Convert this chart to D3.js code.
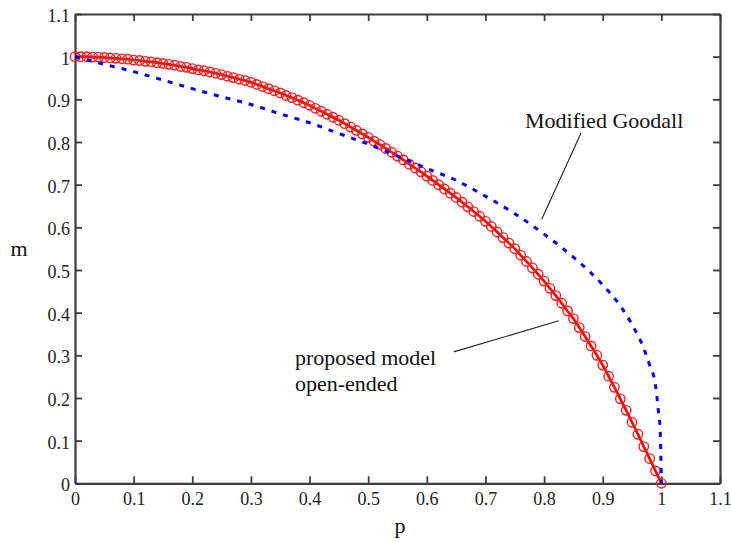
<!DOCTYPE html>
<html>
<head>
<meta charset="utf-8">
<script src="https://cdn.jsdelivr.net/npm/d3@7"></script>
<style>
  html, body { margin: 0; padding: 0; background: #fff; }
  svg { display: block; }
  svg text { font-family: "Liberation Serif", "DejaVu Serif", "Noto Serif", "Times New Roman", serif; }
</style>
</head>
<body>
<svg id="chart" width="731" height="542"></svg>
<script>
// ---------- data ----------
const xTicks = [0, 0.1, 0.2, 0.3, 0.4, 0.5, 0.6, 0.7, 0.8, 0.9, 1, 1.1];
const yTicks = [0, 0.1, 0.2, 0.3, 0.4, 0.5, 0.6, 0.7, 0.8, 0.9, 1, 1.1];
const xTickLabels = ["0", "0.1", "0.2", "0.3", "0.4", "0.5", "0.6", "0.7", "0.8", "0.9", "1", "1.1"];
const yTickLabels = ["0", "0.1", "0.2", "0.3", "0.4", "0.5", "0.6", "0.7", "0.8", "0.9", "1", "1.1"];

// proposed model, open-ended (red, markers every 0.01 in p)
const proposedP = [
  0.00, 0.01, 0.02, 0.03, 0.04, 0.05, 0.06, 0.07, 0.08, 0.09,
  0.10, 0.11, 0.12, 0.13, 0.14, 0.15, 0.16, 0.17, 0.18, 0.19,
  0.20, 0.21, 0.22, 0.23, 0.24, 0.25, 0.26, 0.27, 0.28, 0.29,
  0.30, 0.31, 0.32, 0.33, 0.34, 0.35, 0.36, 0.37, 0.38, 0.39,
  0.40, 0.41, 0.42, 0.43, 0.44, 0.45, 0.46, 0.47, 0.48, 0.49,
  0.50, 0.51, 0.52, 0.53, 0.54, 0.55, 0.56, 0.57, 0.58, 0.59,
  0.60, 0.61, 0.62, 0.63, 0.64, 0.65, 0.66, 0.67, 0.68, 0.69,
  0.70, 0.71, 0.72, 0.73, 0.74, 0.75, 0.76, 0.77, 0.78, 0.79,
  0.80, 0.81, 0.82, 0.83, 0.84, 0.85, 0.86, 0.87, 0.88, 0.89,
  0.90, 0.91, 0.92, 0.93, 0.94, 0.95, 0.96, 0.97, 0.98, 0.99,
  1.00
];
const proposedM = [
  1.000, 1.000, 1.000, 0.999, 0.999, 0.998, 0.997, 0.996, 0.995, 0.994,
  0.992, 0.991, 0.989, 0.988, 0.986, 0.984, 0.982, 0.980, 0.977, 0.975,
  0.972, 0.969, 0.967, 0.964, 0.961, 0.958, 0.954, 0.951, 0.947, 0.944,
  0.940, 0.935, 0.930, 0.925, 0.920, 0.915, 0.909, 0.904, 0.898, 0.892,
  0.886, 0.879, 0.872, 0.865, 0.858, 0.851, 0.843, 0.835, 0.827, 0.819,
  0.811, 0.802, 0.794, 0.785, 0.776, 0.767, 0.758, 0.748, 0.739, 0.730,
  0.720, 0.710, 0.700, 0.690, 0.680, 0.670, 0.659, 0.648, 0.637, 0.626,
  0.614, 0.602, 0.589, 0.576, 0.563, 0.550, 0.535, 0.520, 0.505, 0.490,
  0.474, 0.457, 0.440, 0.422, 0.404, 0.386, 0.365, 0.344, 0.322, 0.300,
  0.277, 0.251, 0.225, 0.198, 0.171, 0.143, 0.115, 0.086, 0.058, 0.029,
  0.000
];

// Modified Goodall (blue dotted)
const goodallP = [0, 0.05, 0.1, 0.15, 0.2, 0.25, 0.3, 0.35, 0.4, 0.45, 0.5, 0.55, 0.6, 0.65,
                  0.7, 0.75, 0.8, 0.85, 0.9, 0.93, 0.95, 0.97, 0.98, 0.99, 0.995, 0.998, 1.0];
const goodallM = [1.000, 0.982, 0.965, 0.945, 0.925, 0.906, 0.888, 0.866, 0.845, 0.820, 0.795, 0.767, 0.738, 0.710,
                  0.673, 0.632, 0.584, 0.530, 0.465, 0.416, 0.372, 0.316, 0.277, 0.230, 0.168, 0.125, 0.000];

const annotationTexts = ["Modified Goodall", "proposed model", "open-ended"];
const xTitle = "p";
const yTitle = "m";

// ---------- layout ----------
const svg = d3.select("#chart");
const mLeft = 75, mRight = 720, mTop = 14, mBottom = 483.3;

const x = d3.scaleLinear().domain([0, 1.1]).range([mLeft, mRight]);
const y = d3.scaleLinear().domain([0, 1.1]).range([mBottom, mTop]);

const frameColor = "#3c3c3c";

// axes with inside ticks
const gB = svg.append("g").attr("transform", `translate(0,${mBottom})`)
  .call(d3.axisBottom(x).tickValues(xTicks).tickSizeInner(-7).tickSizeOuter(0)
        .tickPadding(16).tickFormat((d, i) => xTickLabels[i]));
const gL = svg.append("g").attr("transform", `translate(${mLeft},0)`)
  .call(d3.axisLeft(y).tickValues(yTicks).tickSizeInner(-7).tickSizeOuter(0)
        .tickPadding(5).tickFormat((d, i) => yTickLabels[i]));
const gT = svg.append("g").attr("transform", `translate(0,${mTop})`)
  .call(d3.axisTop(x).tickValues(xTicks).tickSizeInner(-7).tickSizeOuter(0).tickFormat(""));
const gR = svg.append("g").attr("transform", `translate(${mRight},0)`)
  .call(d3.axisRight(y).tickValues(yTicks).tickSizeInner(-7).tickSizeOuter(0).tickFormat(""));

[gB, gL, gT, gR].forEach(g => {
  g.attr("font-family", null).attr("font-size", null);
  g.select(".domain").attr("stroke", frameColor).attr("stroke-width", 2.2);
  g.selectAll(".tick line").attr("stroke", frameColor).attr("stroke-width", 1.8);
  g.selectAll(".tick text")
    .attr("fill", "#222")
    .style("font-size", "18px");
});
gB.selectAll(".tick text").attr("dy", "0.32em");
gL.selectAll(".tick text").attr("dy", "0.42em");

// ---------- series ----------
const proposed = proposedP.map((p, i) => ({ p, m: proposedM[i] }));
const goodall = goodallP.map((p, i) => ({ p, m: goodallM[i] }));

const redLine = d3.line().x(d => x(d.p)).y(d => y(d.m));
const blueLine = d3.line().x(d => x(d.p)).y(d => y(d.m)).curve(d3.curveMonotoneX);

svg.append("path")
  .datum(proposed)
  .attr("d", redLine)
  .attr("fill", "none")
  .attr("stroke", "#ff0000")
  .attr("stroke-width", 2.6);

svg.append("g").selectAll("circle")
  .data(proposed)
  .join("circle")
  .attr("cx", d => x(d.p))
  .attr("cy", d => y(d.m))
  .attr("r", 4.7)
  .attr("fill", "none")
  .attr("stroke", "#ff1a1a")
  .attr("stroke-width", 1.4);

svg.append("path")
  .datum(goodall)
  .attr("d", blueLine)
  .attr("fill", "none")
  .attr("stroke", "#0000ff")
  .attr("stroke-width", 3)
  .attr("stroke-dasharray", "5,7");

// ---------- annotations ----------
svg.append("line")
  .attr("x1", x(0.863)).attr("y1", y(0.821))
  .attr("x2", x(0.796)).attr("y2", y(0.619))
  .attr("stroke", "#222").attr("stroke-width", 1.1);
svg.append("line")
  .attr("x1", x(0.646)).attr("y1", y(0.308))
  .attr("x2", x(0.825)).attr("y2", y(0.381))
  .attr("stroke", "#222").attr("stroke-width", 1.1);

const texts = [
  { t: annotationTexts[0], x: 525, y: 128, a: "start" },
  { t: annotationTexts[1], x: 295, y: 365, a: "start" },
  { t: annotationTexts[2], x: 295, y: 391, a: "start" },
  { t: xTitle, x: 400, y: 533, a: "middle" },
  { t: yTitle, x: 19, y: 256, a: "middle" }
];
svg.append("g").selectAll("text")
  .data(texts)
  .join("text")
  .attr("x", d => d.x).attr("y", d => d.y)
  .attr("text-anchor", d => d.a)
  .style("font-size", "22px")
  .attr("fill", "#111")
  .text(d => d.t);
</script>
</body>
</html>
